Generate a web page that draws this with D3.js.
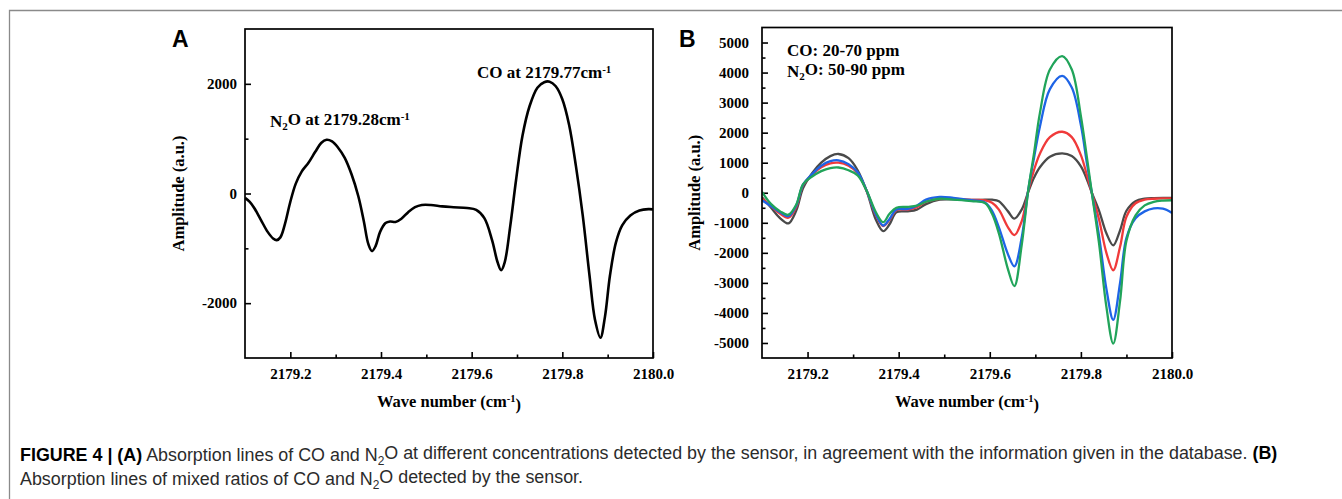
<!DOCTYPE html>
<html>
<head>
<meta charset="utf-8">
<script src="https://cdn.jsdelivr.net/npm/d3@7/dist/d3.min.js"></script>
<style>
    body { margin: 0; background: #fff; }
    svg { display: block; }
</style>
</head>
<body>
<svg id="figure" width="1342" height="499"></svg>
<script>
// ---- panel A: single trace ----
const waveA = [2179.100, 2179.110, 2179.120, 2179.135, 2179.150, 2179.162, 2179.170, 2179.178, 2179.188,
    2179.200, 2179.212, 2179.225, 2179.240, 2179.255, 2179.268, 2179.280, 2179.292, 2179.305, 2179.320,
    2179.335, 2179.350, 2179.362, 2179.372, 2179.380, 2179.388, 2179.398, 2179.410, 2179.420, 2179.432,
    2179.445, 2179.460, 2179.475, 2179.490, 2179.510, 2179.535, 2179.560, 2179.590, 2179.610, 2179.628,
    2179.645, 2179.657, 2179.665, 2179.673, 2179.685, 2179.698, 2179.712, 2179.728, 2179.745, 2179.760,
    2179.772, 2179.785, 2179.800, 2179.815, 2179.830, 2179.845, 2179.860, 2179.872, 2179.884, 2179.894,
    2179.905, 2179.918, 2179.932, 2179.950, 2179.970, 2179.990, 2180.000];
const ampA = [-80, -150, -260, -480, -700, -820, -850, -800, -560,
    -150, 180, 400, 560, 760, 920, 980, 950, 840, 650,
    350, -50, -500, -920, -1050, -960, -700, -540, -510, -520,
    -460, -340, -250, -210, -210, -235, -250, -265, -300, -450,
    -850, -1250, -1400, -1250, -600, 250, 1050, 1600, 1930, 2030,
    2040, 1960, 1720, 1250, 500, -400, -1500, -2300, -2630, -2250,
    -1500, -900, -580, -400, -310, -285, -290];

// ---- panel B: four mixtures ----
const waveB = [2179.100, 2179.120, 2179.140, 2179.158, 2179.175, 2179.190, 2179.210, 2179.230, 2179.250,
    2179.268, 2179.290, 2179.310, 2179.330, 2179.350, 2179.366, 2179.380, 2179.395, 2179.420, 2179.440,
    2179.460, 2179.490, 2179.520, 2179.560, 2179.590, 2179.605, 2179.620, 2179.640, 2179.654, 2179.670,
    2179.685, 2179.697, 2179.710, 2179.732, 2179.759, 2179.780, 2179.800, 2179.813, 2179.824, 2179.840,
    2179.856, 2179.871, 2179.886, 2179.900, 2179.920, 2179.940, 2179.960, 2179.980, 2180.000];
const ampGray = [-150, -500, -850, -1020, -600, 150, 650, 1000, 1220,
    1290, 1150, 750, 50, -900, -1280, -1050, -650, -620, -560,
    -380, -230, -220, -240, -230, -230, -280, -620, -860, -560,
    50, 500, 850, 1200, 1310, 1220, 880, 450, 0, -600,
    -1350, -1750, -1250, -600, -280, -200, -180, -170, -170];
const ampRed = [-200, -450, -700, -830, -480, 250, 600, 850, 980,
    1000, 900, 650, 50, -750, -1110, -900, -580, -560, -480,
    -300, -200, -200, -240, -250, -330, -560, -1150, -1410, -950,
    100, 750, 1300, 1850, 2030, 1850, 1250, 600, 0, -900,
    -2000, -2580, -1800, -800, -350, -230, -200, -190, -190];
const ampBlue = [-250, -450, -650, -780, -430, 270, 620, 900, 1050,
    1080, 950, 680, 60, -720, -1090, -870, -560, -540, -430,
    -230, -140, -170, -250, -330, -600, -1150, -2050, -2450, -1500,
    150, 1150, 2200, 3450, 3890, 3500, 2250, 1000, 0, -1450,
    -3200, -4230, -3000, -1500, -850, -620, -520, -530, -670];
const ampGreen = [30, -380, -620, -730, -400, 280, 540, 720, 820,
    840, 750, 580, 60, -650, -980, -700, -500, -470, -430,
    -300, -200, -230, -280, -350, -700, -1350, -2550, -3110, -1750,
    150, 1300, 2650, 4100, 4550, 4100, 2550, 1200, 0, -1700,
    -3800, -5020, -3600, -1600, -750, -420, -300, -260, -250];
const seriesColorsB = ["#4a4a4a", "#f03a3a", "#1e64e6", "#21a45a"];

// ---- ticks ----
const xMajorTicks = [2179.2, 2179.4, 2179.6, 2179.8, 2180.0];
const xMinorTicks = [2179.3, 2179.5, 2179.7, 2179.9];
const yMajorTicksA = [-2000, 0, 2000];
const yMinorTicksA = [-1000, 1000];
const yMajorTicksB = [-5000, -4000, -3000, -2000, -1000, 0, 1000, 2000, 3000, 4000, 5000];
const yMinorTicksB = [-4500, -3500, -2500, -1500, -500, 500, 1500, 2500, 3500, 4500];

const svg = d3.select("#figure");
const serif = "'Liberation Serif', 'Times New Roman', serif";
const sans = "'Liberation Sans', Arial, Helvetica, sans-serif";

// outer figure frame (only top and left visible)
svg.append("path")
    .attr("d", "M9.5,499 L9.5,10.5 L1342,10.5")
    .attr("fill", "none")
    .attr("stroke", "#8a8a8a")
    .attr("stroke-width", 1.3);

/**
 * Draws one panel with a frame, inward ticks and any number of traces
 */
function drawPanel(p) {
    let x = d3.scaleLinear().domain([2179.1, 2180.0]).range([p.left, p.right]);
    let y = d3.scaleLinear().domain(p.yDomain).range([p.bottom, p.top]);
    let g = svg.append("g");

    g.append("clipPath").attr("id", p.id + "-clip")
        .append("rect")
        .attr("x", p.left).attr("y", p.top)
        .attr("width", p.right - p.left).attr("height", p.bottom - p.top);

    // x axis, major + minor
    g.append("g").attr("transform", `translate(0,${p.bottom})`)
        .call(d3.axisBottom(x).tickValues(xMajorTicks).tickSize(-6).tickPadding(10).tickFormat(d => d.toFixed(1)));
    g.append("g").attr("transform", `translate(0,${p.bottom})`)
        .call(d3.axisBottom(x).tickValues(xMinorTicks).tickSize(-3.5).tickFormat(""));

    // y axis, plain hyphen minus like the original
    g.append("g").attr("transform", `translate(${p.left},0)`)
        .call(d3.axisLeft(y).tickValues(p.yMajor).tickSize(-6).tickPadding(p.yPad).tickFormat(d => String(d)));
    g.append("g").attr("transform", `translate(${p.left},0)`)
        .call(d3.axisLeft(y).tickValues(p.yMinor).tickSize(-3.5).tickFormat(""));

    g.selectAll(".domain").remove();
    g.selectAll(".tick line").attr("stroke", "#000").attr("stroke-width", 1.6);
    g.selectAll(".tick text")
        .attr("fill", "#000")
        .style("font-family", serif)
        .style("font-weight", "bold")
        .style("font-size", "15px");

    // traces
    p.series.forEach((vals, i) => {
        let pts = p.wave.map((w, j) => [w, vals[j]]);
        g.append("path")
            .datum(pts)
            .attr("clip-path", `url(#${p.id}-clip)`)
            .attr("fill", "none")
            .attr("stroke", p.colors[i])
            .attr("stroke-width", p.lineWidth)
            .attr("stroke-linejoin", "round")
            .attr("d", d3.line().x(d => x(d[0])).y(d => y(d[1])).curve(d3.curveCatmullRom.alpha(0.5)));
    });

    // frame
    g.append("rect")
        .attr("x", p.left).attr("y", p.top)
        .attr("width", p.right - p.left).attr("height", p.bottom - p.top)
        .attr("fill", "none").attr("stroke", "#000").attr("stroke-width", 1.7);

    // axis titles
    let xt = g.append("text")
        .attr("x", (p.left + p.right) / 2).attr("y", 407)
        .attr("text-anchor", "middle")
        .style("font-family", serif).style("font-weight", "bold").style("font-size", "16.5px");
    xt.append("tspan").text("Wave number (cm");
    xt.append("tspan").attr("dy", "-0.45em").style("font-size", "10.5px").text("-1");
    xt.append("tspan").attr("dy", "0.45em").text(")");

    g.append("text")
        .attr("transform", `translate(${p.yTitleX},${(p.top + p.bottom) / 2}) rotate(-90)`)
        .attr("text-anchor", "middle")
        .style("font-family", serif).style("font-weight", "bold").style("font-size", "16.5px")
        .text("Amplitude (a.u.)");

    // panel letter
    g.append("text")
        .attr("x", p.letterX).attr("y", 47)
        .style("font-family", sans).style("font-weight", "bold").style("font-size", "23px")
        .text(p.letter);

    return {x: x, y: y, g: g};
}

/** writes a bold serif label that may contain a subscript 2 and a superscript -1 */
function richLabel(g, xPos, yPos, parts) {
    let t = g.append("text").attr("x", xPos).attr("y", yPos)
        .style("font-family", serif).style("font-weight", "bold").style("font-size", "17px");
    parts.forEach(pt => {
        let s = t.append("tspan").text(pt.t);
        if (pt.sub) { s.attr("dy", "0.3em").style("font-size", "11px"); }
        if (pt.sup) { s.attr("dy", "-0.45em").style("font-size", "11px"); }
        if (pt.back) { s.attr("dy", pt.back); }
    });
    return t;
}

let panelA = drawPanel({
    id: "pa", letter: "A", letterX: 172,
    left: 245, right: 653, top: 29, bottom: 358,
    yDomain: [-3000, 3000], yMajor: yMajorTicksA, yMinor: yMinorTicksA, yPad: 8, yTitleX: 184,
    wave: waveA, series: [ampA], colors: ["#000"], lineWidth: 2.6
});
richLabel(panelA.g, 270, 127, [{t: "N"}, {t: "2", sub: true}, {t: "O at 2179.28cm", back: "-0.3em"}, {t: "-1", sup: true}]);
richLabel(panelA.g, 477, 78, [{t: "CO at 2179.77cm"}, {t: "-1", sup: true}]);

let panelB = drawPanel({
    id: "pb", letter: "B", letterX: 679,
    left: 762, right: 1172, top: 27.5, bottom: 358,
    yDomain: [-5500, 5500], yMajor: yMajorTicksB, yMinor: yMinorTicksB, yPad: 13, yTitleX: 700,
    wave: waveB, series: [ampGray, ampRed, ampBlue, ampGreen], colors: seriesColorsB, lineWidth: 2.3
});
richLabel(panelB.g, 787, 56, [{t: "CO: 20-70 ppm"}]);
richLabel(panelB.g, 787, 77, [{t: "N"}, {t: "2", sub: true}, {t: "O: 50-90 ppm", back: "-0.3em"}]);

// ---- caption ----
const cap = svg.append("g").style("font-family", sans).style("font-size", "15px").attr("fill", "#2b2b2b");
let line1 = cap.append("text").attr("x", 20).attr("y", 461);
line1.append("tspan").style("font-weight", "bold").attr("fill", "#000").text("FIGURE 4 | (A)");
line1.append("tspan").text(" Absorption lines of CO and N");
line1.append("tspan").attr("dy", "0.3em").style("font-size", "10px").text("2");
line1.append("tspan").attr("dy", "-0.3em").text("O at different concentrations detected by the sensor, in agreement with the information given in the database. ");
line1.append("tspan").style("font-weight", "bold").attr("fill", "#000").text("(B)");

let line2 = cap.append("text").attr("x", 20).attr("y", 485);
line2.append("tspan").text("Absorption lines of mixed ratios of CO and N");
line2.append("tspan").attr("dy", "0.3em").style("font-size", "10px").text("2");
line2.append("tspan").attr("dy", "-0.3em").text("O detected by the sensor.");

// fit the caption width to the reference line length
let w1 = line1.node().getComputedTextLength();
let scaleCap = 1259 / w1;
cap.style("font-size", (15 * scaleCap) + "px");
cap.selectAll("tspan").filter(function () { return this.style.fontSize === "10px"; })
    .style("font-size", (10 * scaleCap) + "px");
</script>
</body>
</html>
